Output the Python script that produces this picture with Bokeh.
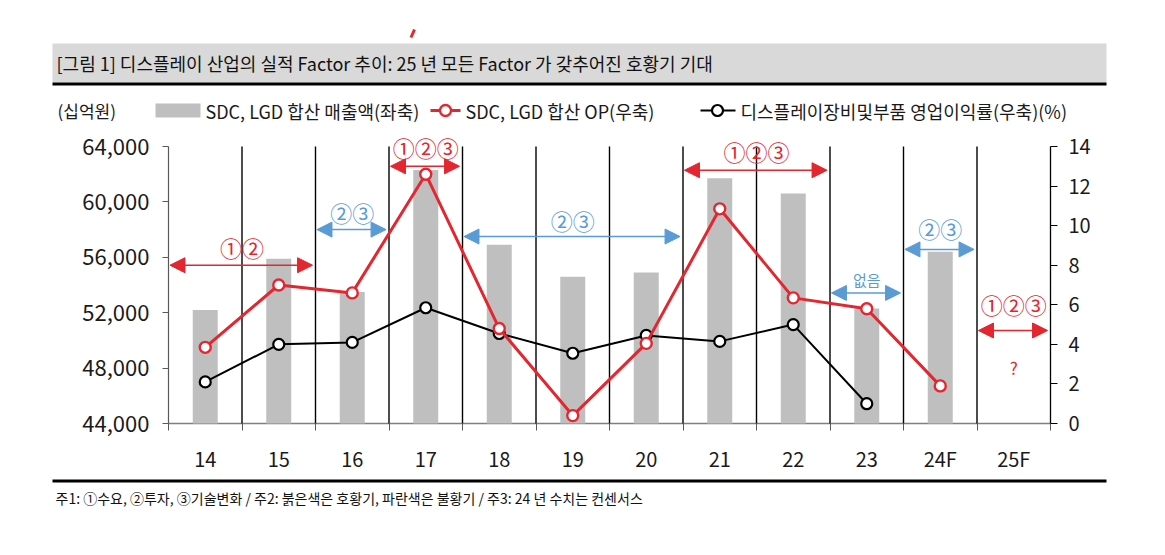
import numpy as np
from bokeh.plotting import figure
from bokeh.models import (Range1d, LinearAxis, FixedTicker, NumeralTickFormatter,
                          Label, Arrow, NormalHead, ColumnDataSource)
from bokeh.core.properties import value
from bokeh.embed import file_html
from bokeh.resources import INLINE

# ---------------- data ----------------
cats = ["14", "15", "16", "17", "18", "19", "20", "21", "22", "23", "24F", "25F"]
sales = [52200, 55900, 53500, 62300, 56900, 54600, 54900, 61700, 60600, 52300, 56400, np.nan]
op = [3.85, 7.0, 6.6, 12.6, 4.8, 0.4, 4.05, 10.85, 6.35, 5.8, 1.9, np.nan]
margin = [2.1, 4.0, 4.1, 5.85, 4.55, 3.55, 4.45, 4.15, 5.0, 1.0, np.nan, np.nan]
left_ticks = [44000, 48000, 52000, 56000, 60000, 64000]
right_ticks = [0, 2, 4, 6, 8, 10, 12, 14]

# cycle periods (category index start / end), label, boom(True)/bust(False)
period_start = [0, 2, 3, 4, 7, 9, 10, 11]
period_end = [2, 3, 4, 7, 9, 10, 11, 12]
period_text = ["①②", "②③", "①②③", "②③", "①②③", "없음", "②③", "①②③"]
period_boom = [True, False, True, False, True, False, False, True]

title_text = "[그림 1] 디스플레이 산업의 실적 Factor 추이: 25 년 모든 Factor 가 갖추어진 호황기 기대"
note_text = "주1: ①수요, ②투자, ③기술변화 / 주2: 붉은색은 호황기, 파란색은 불황기 / 주3: 24 년 수치는 컨센서스"
unit_text = "(십억원)"
legend_labels = ["SDC, LGD 합산 매출액(좌축)", "SDC, LGD 합산 OP(우축)", "디스플레이장비및부품 영업이익률(우축)(%)"]

# ---------------- layout / style ----------------
arrow_y = [8.0, 9.8, 13.0, 9.45, 12.8, 6.6, 8.8, 4.7]
text_y = [8.9, 10.7, 13.95, 10.26, 13.75, 7.28, 9.86, 6.06]
RED = "#e3262f"
BLUE = "#5b9bd5"
GRAY_BAR = "#bfbfbf"
FONT = "Noto Sans CJK KR"
TXT = "#1a1a1a"
W, H = 1149, 539
PLOT_L, PLOT_R = 168, 1050      # page x of category axis start / end
PLOT_T, PLOT_B = 146, 423       # page y of top / bottom tick

n = len(cats)
centers = np.arange(n) + 0.5
boundaries = np.arange(0, n + 1)

# ranges chosen so that the frame covers the whole canvas
cat_px = (PLOT_R - PLOT_L) / n
xr = Range1d(-PLOT_L / cat_px, n + (W - PLOT_R) / cat_px)
lpx = (left_ticks[-1] - left_ticks[0]) / (PLOT_B - PLOT_T)
rpx = (right_ticks[-1] - right_ticks[0]) / (PLOT_B - PLOT_T)
yr = Range1d(left_ticks[0] - (H - PLOT_B) * lpx, left_ticks[-1] + PLOT_T * lpx)

p = figure(width=W, height=H, output_backend="svg", toolbar_location=None,
           x_range=xr, y_range=yr, x_axis_type=None, y_axis_type=None,
           min_border=0, min_border_left=0, min_border_right=0,
           min_border_top=0, min_border_bottom=0)
p.extra_y_ranges = {"right": Range1d(right_ticks[0] - (H - PLOT_B) * rpx,
                                     right_ticks[-1] + PLOT_T * rpx),
                    "px": Range1d(H, 0)}
p.extra_x_ranges = {"px": Range1d(0, W)}
p.outline_line_color = None
p.xgrid.visible = False
p.ygrid.visible = False

# ---------------- axes (fixed inside the canvas) ----------------
xa = LinearAxis(fixed_location=left_ticks[0])
xa.ticker = FixedTicker(ticks=list(centers), minor_ticks=list(boundaries))
xa.major_label_overrides = {float(c): lab for c, lab in zip(centers, cats)}
xa.major_tick_line_color = None
xa.major_tick_out = 7
xa.major_tick_in = 0
xa.minor_tick_line_color = "#595959"
xa.minor_tick_out = 7
xa.minor_tick_in = 0
xa.axis_line_color = None
xa.major_label_standoff = 13
xa.major_label_text_font = FONT
xa.major_label_text_font_size = "20px"
xa.major_label_text_color = TXT
p.add_layout(xa, "below")

ya = LinearAxis(fixed_location=0)
ya.ticker = FixedTicker(ticks=left_ticks)
ya.formatter = NumeralTickFormatter(format="0,0")
ya.major_tick_out = 6
ya.major_tick_in = 0
ya.minor_tick_line_color = None
ya.axis_line_color = None
ya.major_tick_line_color = "#595959"
ya.major_label_standoff = 13
ya.major_label_text_font = FONT
ya.major_label_text_font_size = "22px"
ya.major_label_text_color = TXT
p.add_layout(ya, "left")

ra = LinearAxis(y_range_name="right", fixed_location=n, ticker=FixedTicker(ticks=right_ticks))
ra.major_tick_out = 7
ra.major_tick_in = 0
ra.minor_tick_line_color = None
ra.axis_line_color = None
ra.major_tick_line_color = "black"
ra.major_label_standoff = 11
ra.major_label_text_font = FONT
ra.major_label_text_font_size = "20px"
ra.major_label_text_color = TXT
p.add_layout(ra, "right")

# axis lines
p.segment(x0=[0], x1=[n], y0=[left_ticks[0]], y1=[left_ticks[0]], line_color="#7f7f7f", line_width=1.5)
p.segment(x0=[0], x1=[0], y0=[left_ticks[0]], y1=[left_ticks[-1]], line_color="#595959", line_width=1.2)
p.segment(x0=[n], x1=[n], y0=[right_ticks[0]], y1=[right_ticks[-1]], y_range_name="right",
          line_color="black", line_width=1.3)

# vertical separators between categories
inner = boundaries[1:-1]
p.segment(x0=inner, x1=inner, y0=[left_ticks[0]] * len(inner), y1=[left_ticks[-1]] * len(inner),
          line_color="black", line_width=1.4)

# ---------------- series ----------------
src = ColumnDataSource(dict(x=centers, sales=sales, op=op, margin=margin))
p.vbar(x="x", top="sales", bottom=left_ticks[0], width=0.34, source=src,
       fill_color=GRAY_BAR, line_color=None)

p.line("x", "margin", source=src, y_range_name="right", line_color="black", line_width=2)
p.scatter("x", "margin", source=src, y_range_name="right", size=11, marker="circle",
          fill_color="white", line_color="black", line_width=2.2)

p.line("x", "op", source=src, y_range_name="right", line_color=RED, line_width=3)
p.scatter("x", "op", source=src, y_range_name="right", size=11, marker="circle",
          fill_color="white", line_color=RED, line_width=2.4)

# cycle arrows and their labels
for s, e, t, boom, ay, ty in zip(period_start, period_end, period_text, period_boom, arrow_y, text_y):
    col = RED if boom else BLUE
    p.add_layout(Arrow(x_start=s + 0.02, x_end=e - 0.04, y_start=ay, y_end=ay,
                       y_range_name="right", line_color=col, line_width=1.5,
                       start=NormalHead(size=15, fill_color=col, line_color=col),
                       end=NormalHead(size=15, fill_color=col, line_color=col)))
    fs = "15px" if t == "없음" else "22px"
    p.add_layout(Label(x=(s + e) / 2, y=ty, y_range_name="right", text=t,
                       text_align="center", text_baseline="middle",
                       text_font=FONT, text_font_size=fs, text_color=col))

p.add_layout(Label(x=centers[-1], y=2.83, y_range_name="right", text="?",
                   text_align="center", text_baseline="middle",
                   text_font=FONT, text_font_size="17px", text_color=RED))

# ---------------- header: title bar + legend (page-pixel range) ----------------
PX = dict(x_range_name="px", y_range_name="px")
p.quad(left=[52], right=[1106], top=[43], bottom=[82], fill_color="#d9d9d9", line_color=None, **PX)
p.quad(left=[52], right=[1106], top=[82], bottom=[85], fill_color="black", line_color=None, **PX)
p.text(x=[56], y=[62.5], text=[title_text], text_baseline="middle",
       text_font=value(FONT), text_font_size="18px", text_color="#111111", **PX)
p.segment(x0=[410.5], y0=[37], x1=[414], y1=[29], line_color=RED, line_width=3, **PX)

leg_y = 110
p.text(x=[57], y=[leg_y], text=[unit_text], text_baseline="middle",
       text_font=value(FONT), text_font_size="17px", text_color=TXT, **PX)
p.quad(left=[155], right=[200], top=[103], bottom=[117], fill_color=GRAY_BAR, line_color=None, **PX)
p.segment(x0=[430], x1=[460], y0=[leg_y], y1=[leg_y], line_color=RED, line_width=3, **PX)
p.scatter(x=[445], y=[leg_y], size=11, marker="circle", fill_color="white",
          line_color=RED, line_width=2.4, **PX)
p.segment(x0=[700], x1=[735], y0=[leg_y], y1=[leg_y], line_color="black", line_width=2, **PX)
p.scatter(x=[717], y=[leg_y], size=11, marker="circle", fill_color="white",
          line_color="black", line_width=2.2, **PX)
p.text(x=[205, 465, 740], y=[leg_y] * 3, text=legend_labels, text_baseline="middle",
       text_font=value(FONT), text_font_size="18px", text_color=TXT, **PX)

# ---------------- footer: notes ----------------
p.quad(left=[52], right=[1106], top=[479], bottom=[482], fill_color="black", line_color=None, **PX)
p.text(x=[55], y=[497], text=[note_text], text_baseline="middle",
       text_font=value(FONT), text_font_size="14px", text_color="#111111", **PX)

open("out.html", "w").write(file_html(p, INLINE))
